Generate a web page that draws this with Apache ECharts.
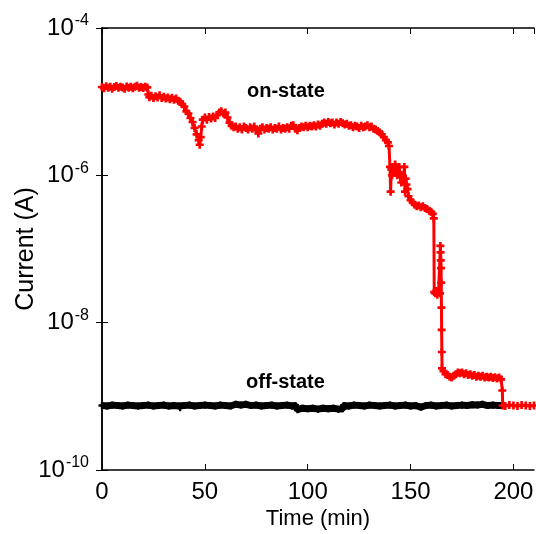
<!DOCTYPE html>
<html>
<head>
<meta charset="utf-8">
<script src="https://cdn.jsdelivr.net/npm/echarts@6/dist/echarts.min.js"></script>
<style>html,body{margin:0;padding:0;background:#fff}#c{width:536px;height:534px}</style>
</head>
<body>
<div id="c"></div>
<script>
// On-state current (red), time in minutes, current in A
var onTime = [0,1,2,3,4,5,6,7,8,9,10,11,12,13,14,15,16,17,18,19,20,21,22,22.5,23,24,25,26,27,28,29,30,31,32,33,34,35,36,37,38,39,40,41,42,43,44,45,46,47,47.5,48,48.5,49,50,51,52,53,54,55,56,57,58,59,60,61,62,63,64,65,66,67,68,69,70,71,72,73,74,75,76,77,78,79,80,81,82,83,84,85,86,87,88,89,90,91,92,93,94,95,96,97,98,99,100,101,102,103,104,105,106,107,108,109,110,111,112,113,114,115,116,117,118,119,120,121,122,123,124,125,126,127,128,129,130,131,132,133,134,135,136,137,138,139,139.5,140,140.3,140.6,141,141.5,142,142.5,143,143.5,144,144.5,145,145.5,146,146.5,147,147.3,147.6,148,148.5,149,150,151,152,153,154,155,156,157,158,159,160,160.8,161.3,161.5,162,162.5,163,163.6,164.3,164.5,164.6,164.7,164.8,164.9,165.0,165.1,165.2,165.3,166,167,168,169,170,171,172,173,174,175,176,177,178,179,180,181,182,183,184,185,186,187,188,189,190,191,192,193,194,194.6,194.8,196,198,200,202,204,206,208,210];
var onCurrent = [1.58e-5,1.52e-5,1.62e-5,1.55e-5,1.6e-5,1.5e-5,1.58e-5,1.63e-5,1.54e-5,1.6e-5,1.56e-5,1.5e-5,1.61e-5,1.55e-5,1.59e-5,1.52e-5,1.6e-5,1.64e-5,1.55e-5,1.58e-5,1.53e-5,1.6e-5,1.56e-5,1.25e-5,1.15e-5,1.2e-5,1.12e-5,1.18e-5,1.14e-5,1.22e-5,1.12e-5,1.17e-5,1.1e-5,1.14e-5,1.08e-5,1.13e-5,1.06e-5,1.1e-5,1.03e-5,1.0e-5,9.2e-6,8.6e-6,7.4e-6,6.9e-6,6.0e-6,5.3e-6,4.4e-6,3.6e-6,3.0e-6,2.6e-6,3.3e-6,4.6e-6,5.7e-6,6.1e-6,5.7e-6,6.2e-6,5.9e-6,6.3e-6,6.0e-6,6.6e-6,7.1e-6,7.4e-6,6.9e-6,7.1e-6,6.1e-6,5.2e-6,4.7e-6,4.5e-6,4.6e-6,4.3e-6,4.5e-6,4.2e-6,4.6e-6,4.4e-6,4.2e-6,4.5e-6,4.3e-6,4.6e-6,4.1e-6,3.7e-6,4.3e-6,4.5e-6,4.2e-6,4.4e-6,4.3e-6,4.5e-6,4.2e-6,4.4e-6,4.3e-6,4.6e-6,4.2e-6,4.4e-6,4.3e-6,4.5e-6,4.3e-6,4.7e-6,4.8e-6,4.3e-6,4.1e-6,4.4e-6,4.6e-6,4.5e-6,4.7e-6,4.5e-6,4.7e-6,4.6e-6,4.8e-6,4.6e-6,4.9e-6,4.7e-6,5.0e-6,5.2e-6,5.0e-6,5.3e-6,5.1e-6,5.2e-6,4.9e-6,5.2e-6,5.0e-6,5.3e-6,5.1e-6,4.9e-6,5.0e-6,4.7e-6,4.8e-6,4.5e-6,4.7e-6,4.6e-6,4.4e-6,4.7e-6,4.5e-6,4.6e-6,4.8e-6,4.5e-6,4.6e-6,4.3e-6,4.2e-6,4.0e-6,3.8e-6,3.6e-6,3.3e-6,3.0e-6,2.8e-6,2.5e-6,1.3e-6,6.0e-7,1.2e-6,1.0e-6,1.3e-6,1.1e-6,1.4e-6,1.2e-6,1.0e-6,1.1e-6,1.3e-6,9.5e-7,8.0e-7,1.0e-6,8.5e-7,1.3e-6,6.0e-7,9.0e-7,7.5e-7,6.5e-7,5.2e-7,4.6e-7,4.3e-7,4.0e-7,3.8e-7,3.9e-7,3.7e-7,3.8e-7,3.6e-7,3.5e-7,3.3e-7,3.2e-7,3.0e-7,2.6e-7,2.6e-8,2.5e-8,2.7e-8,2.4e-8,2.6e-8,2.5e-8,1.1e-7,9.0e-8,7.0e-8,5.5e-8,3.5e-8,1.6e-8,8.0e-9,4.0e-9,2.4e-9,2.2e-9,2.0e-9,1.95e-9,1.85e-9,1.8e-9,1.9e-9,2.0e-9,2.1e-9,2.05e-9,2.1e-9,2.0e-9,2.05e-9,1.95e-9,2.0e-9,1.9e-9,1.95e-9,1.85e-9,1.9e-9,1.85e-9,1.9e-9,1.8e-9,1.85e-9,1.8e-9,1.85e-9,1.78e-9,1.82e-9,1.75e-9,1.8e-9,1.7e-9,1.2e-9,7.5e-10,7.4e-10,7.6e-10,7.5e-10,7.4e-10,7.6e-10,7.5e-10,7.4e-10,7.5e-10];

// Off-state current (black)
var offTime = [0,2.5,5,7.5,10,12.5,15,17.5,20,22.5,25,27.5,30,32.5,35,37.5,38,40,42.5,45,47.5,50,52.5,55,57.5,60,62.5,65,67.5,70,72.5,75,77.5,80,82.5,85,87.5,90,92.5,94,95,97.5,100,102.5,105,107.5,110,112.5,115,117,117.5,120,122.5,125,127.5,130,132.5,135,137.5,140,142.5,145,147.5,150,152.5,155,157.5,160,162.5,165,167.5,170,172.5,175,177.5,180,182.5,185,187.5,190,192.5,195];
var offCurrent = [7.5e-10,7.4e-10,7.6e-10,7.5e-10,7.4e-10,7.6e-10,7.5e-10,7.4e-10,7.5e-10,7.6e-10,7.4e-10,7.5e-10,7.6e-10,7.4e-10,7.5e-10,7.4e-10,7.0e-10,7.5e-10,7.6e-10,7.4e-10,7.5e-10,7.6e-10,7.5e-10,7.4e-10,7.6e-10,7.5e-10,7.4e-10,7.8e-10,7.6e-10,7.8e-10,7.5e-10,7.6e-10,7.4e-10,7.5e-10,7.6e-10,7.4e-10,7.5e-10,7.6e-10,7.4e-10,7.5e-10,6.6e-10,6.9e-10,6.8e-10,6.9e-10,6.7e-10,6.9e-10,6.8e-10,6.9e-10,6.7e-10,6.8e-10,7.5e-10,7.4e-10,7.6e-10,7.5e-10,7.4e-10,7.6e-10,7.5e-10,7.4e-10,7.5e-10,7.6e-10,7.4e-10,7.5e-10,7.6e-10,7.4e-10,7.5e-10,7.1e-10,7.5e-10,7.6e-10,7.4e-10,7.5e-10,7.6e-10,7.4e-10,7.5e-10,7.6e-10,7.5e-10,7.7e-10,7.6e-10,7.8e-10,7.5e-10,7.6e-10,7.5e-10,7.5e-10];

var xTicks = {min: 0, max: 210, step: 50};
var yExp = {min: -10, max: -4, step: 2};
var labelTexts = ['on-state', 'off-state'];

var FONT = 'Liberation Sans, Arial, sans-serif';
var plus = 'path://M2,0H4V2H6V4H4V6H2V4H0V2H2Z';

function pairs(xs, ys) { return xs.map(function (t, i) { return [t, ys[i]]; }); }

var chart = echarts.init(document.getElementById('c'), null, {renderer: 'canvas'});

var axisLineStyle = {color: '#000', width: 1.5};
var yLabelFmt = function (v) {
  var e = Math.round(Math.log(v) / Math.LN10);
  return '{b|10}{s|' + e + '}';
};

chart.setOption({
  animation: false,
  backgroundColor: '#fff',
  grid: {left: 102, right: 2, top: 28, bottom: 64, containLabel: false, outerBoundsMode: 'none'},
  xAxis: [{
    type: 'value', min: xTicks.min, max: xTicks.max, interval: xTicks.step, position: 'bottom',
    axisLine: {lineStyle: axisLineStyle},
    axisTick: {inside: true, length: 6, lineStyle: {color: '#000', width: 1}},
    axisLabel: {color: '#000', fontSize: 24, fontFamily: FONT, margin: 10, showMaxLabel: false},
    splitLine: {show: false},
    name: 'Time (min)', nameLocation: 'middle', nameGap: 38, nameMoveOverlap: false,
    nameTextStyle: {color: '#000', fontSize: 22, fontFamily: FONT}
  }, {
    type: 'value', min: xTicks.min, max: xTicks.max, interval: xTicks.step, position: 'top',
    axisLine: {lineStyle: axisLineStyle},
    axisTick: {inside: true, length: 6, lineStyle: {color: '#000', width: 1}},
    axisLabel: {show: false}, splitLine: {show: false}
  }],
  yAxis: [{
    type: 'log', logBase: 10, min: Math.pow(10, yExp.min), max: Math.pow(10, yExp.max), interval: yExp.step,
    position: 'left',
    axisLine: {lineStyle: axisLineStyle},
    axisTick: {inside: true, length: 6, lineStyle: {color: '#000', width: 1}},
    axisLabel: {
      color: '#000', margin: 13, formatter: yLabelFmt,
      rich: {
        b: {fontSize: 24, fontFamily: FONT, color: '#000'},
        s: {fontSize: 16, fontFamily: FONT, color: '#000', padding: [0, 0, 14, 1]}
      }
    },
    splitLine: {show: false},
    name: 'Current (A)', nameLocation: 'middle', nameGap: 63, nameMoveOverlap: false,
    nameTextStyle: {color: '#000', fontSize: 25, fontFamily: FONT}
  }, {
    type: 'log', logBase: 10, min: Math.pow(10, yExp.min), max: Math.pow(10, yExp.max), interval: yExp.step,
    position: 'right',
    axisLine: {lineStyle: axisLineStyle},
    axisTick: {inside: true, length: 6, lineStyle: {color: '#000', width: 1}},
    axisLabel: {show: false}, splitLine: {show: false}
  }],
  series: [{
    name: 'off', type: 'line', xAxisIndex: 0, yAxisIndex: 0,
    data: pairs(offTime, offCurrent),
    lineStyle: {color: '#000', width: 7},
    symbol: plus, symbolSize: 7, showSymbol: true, showAllSymbol: true,
    itemStyle: {color: '#000'}, z: 2
  }, {
    name: 'on', type: 'line', xAxisIndex: 0, yAxisIndex: 0,
    data: pairs(onTime, onCurrent),
    lineStyle: {color: '#ff0000', width: 3},
    symbol: plus, symbolSize: 8, showSymbol: true, showAllSymbol: true,
    itemStyle: {color: '#ff0000'}, z: 3
  }],
  graphic: [
    {type: 'text', left: 247, top: 81, style: {text: labelTexts[0], font: 'bold 20px ' + FONT, fill: '#000'}},
    {type: 'text', left: 246, top: 372, style: {text: labelTexts[1], font: 'bold 20px ' + FONT, fill: '#000'}}
  ]
});
</script>
</body>
</html>
